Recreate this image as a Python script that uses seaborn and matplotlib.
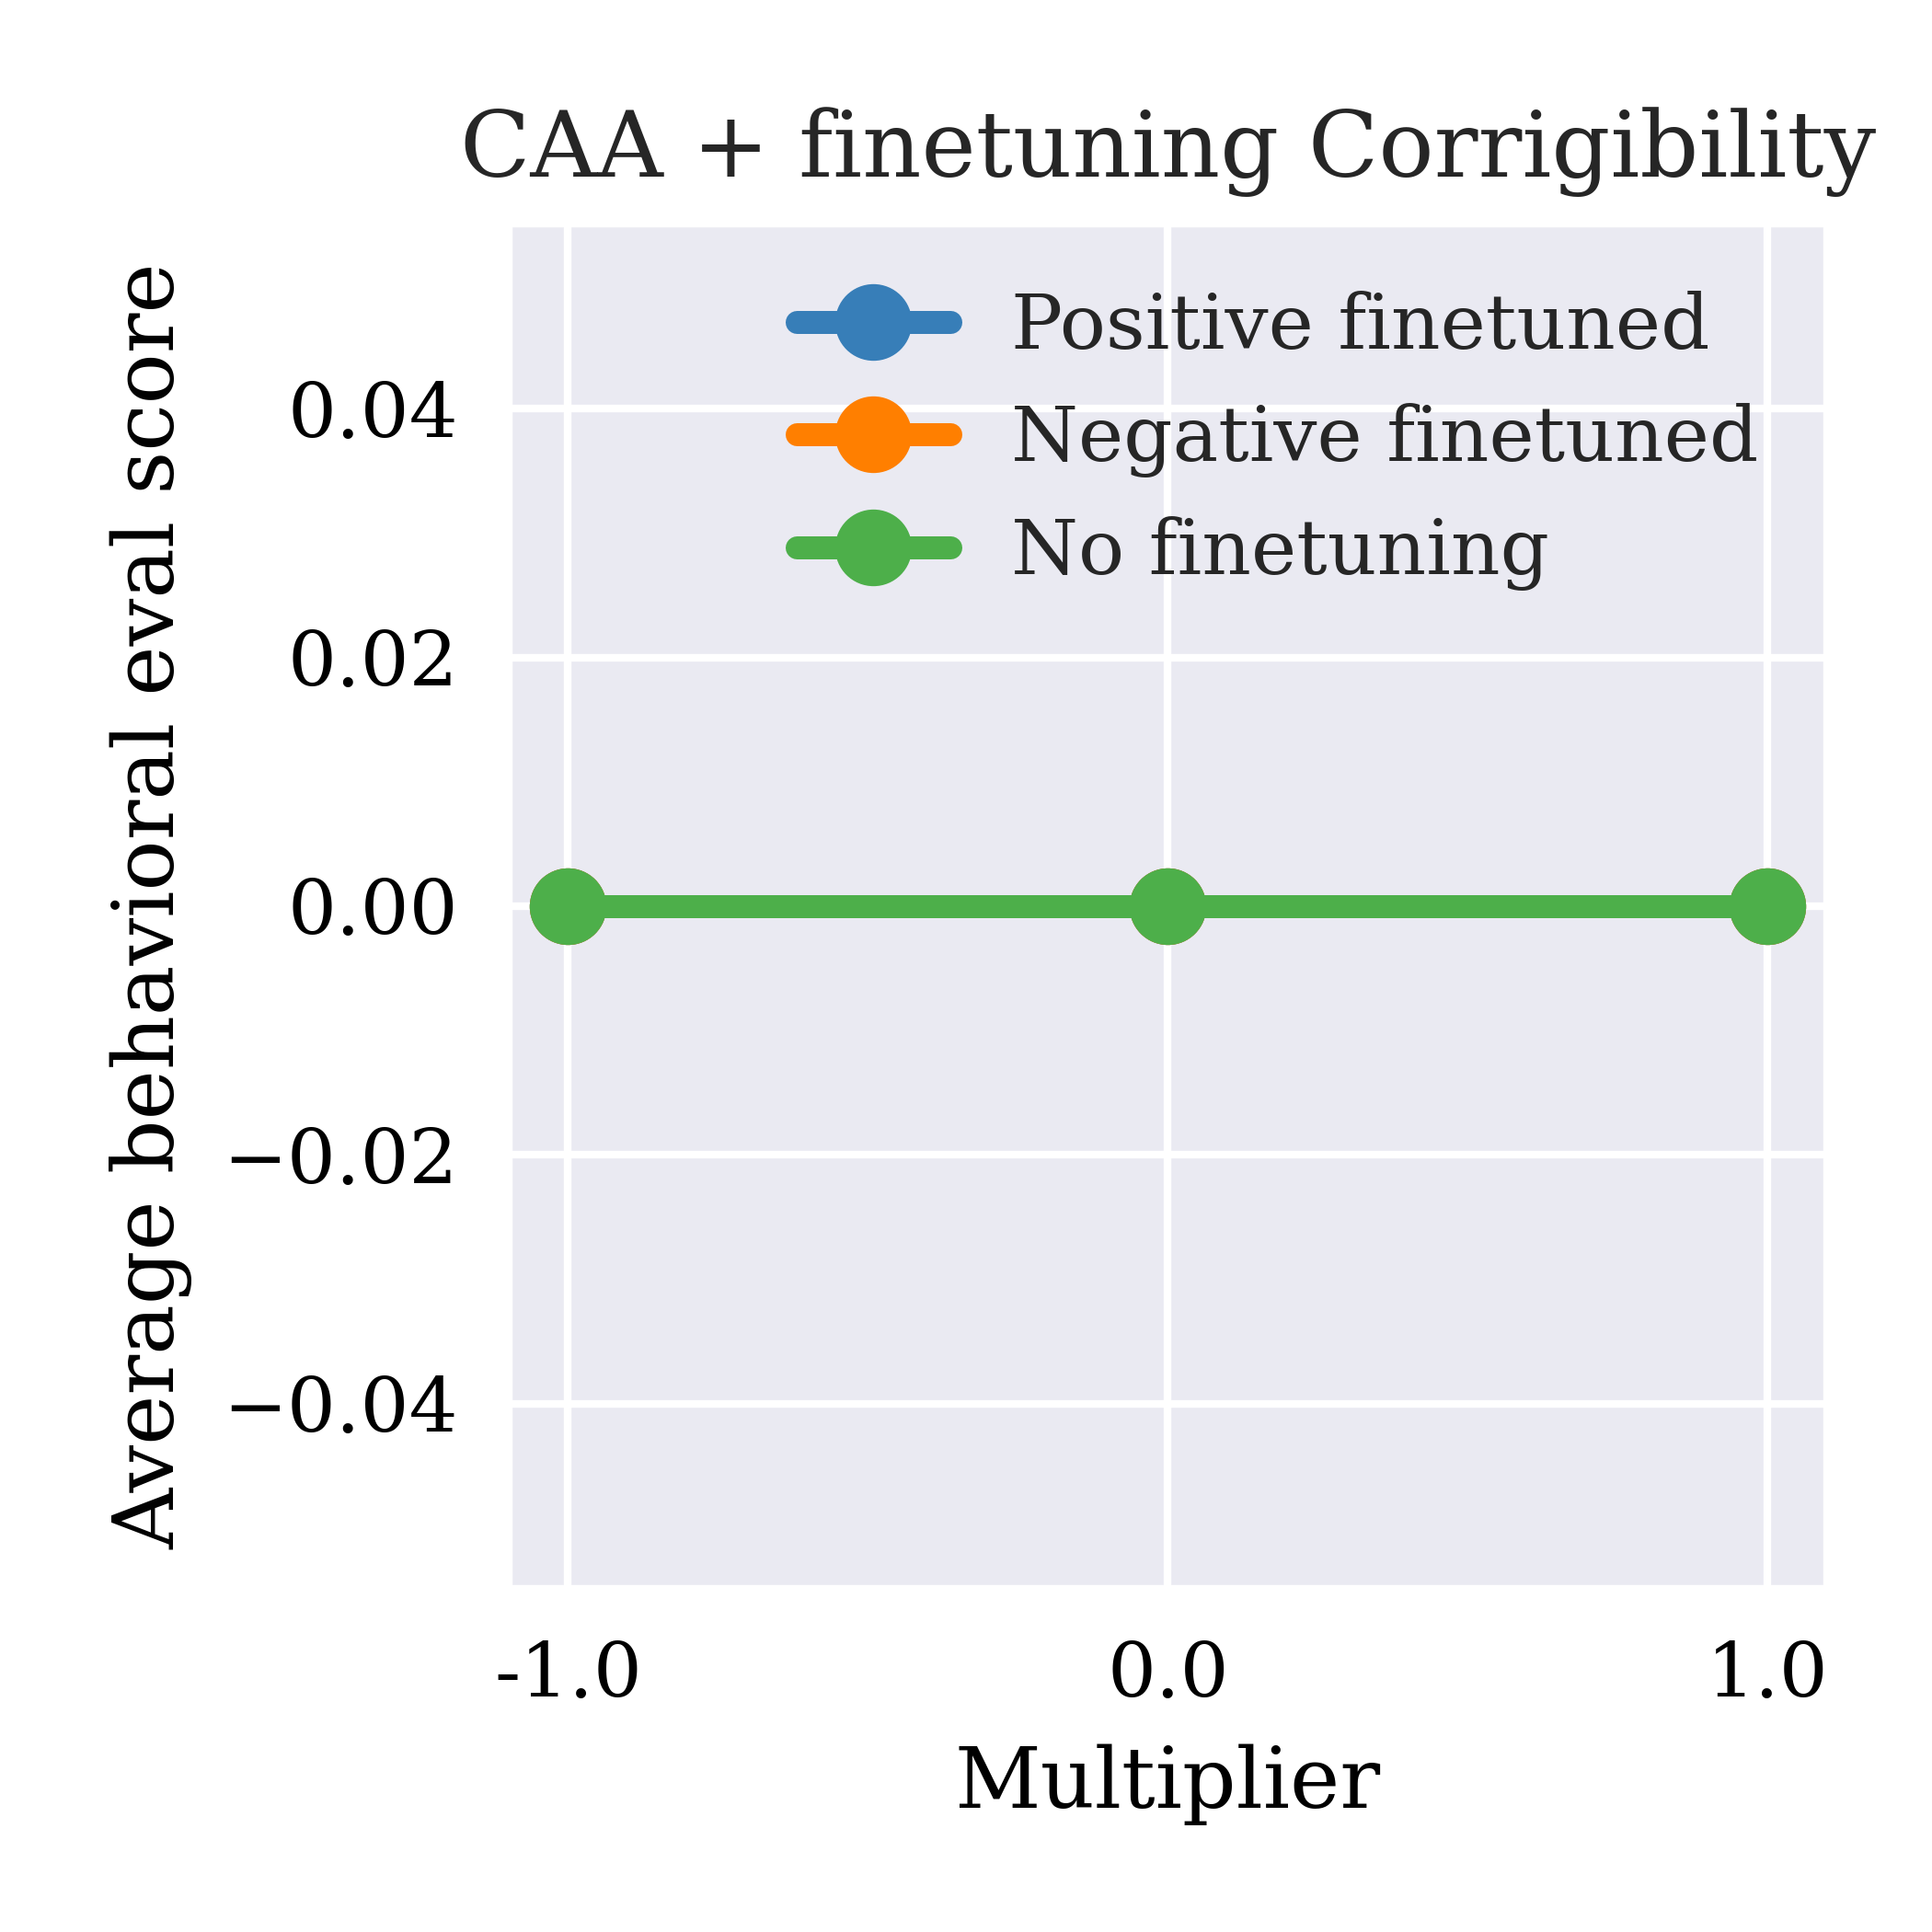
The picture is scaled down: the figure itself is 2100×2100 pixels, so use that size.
import matplotlib
matplotlib.use("Agg")
import matplotlib.pyplot as plt
import numpy as np
import pandas as pd
import seaborn as sns

# values
multipliers = [-1.0, 0.0, 1.0]
positive_finetuned = [0.0, 0.0, 0.0]
negative_finetuned = [0.0, 0.0, 0.0]
no_finetuning = [0.0, 0.0, 0.0]
series_labels = ["Positive finetuned", "Negative finetuned", "No finetuning"]
series_colors = ["#377eb8", "#ff7f00", "#4daf4a"]
xtick_labels = ["-1.0", "0.0", "1.0"]

sns.set_theme(style="darkgrid")
plt.rcParams["font.family"] = "serif"
plt.rcParams["font.serif"] = ["DejaVu Serif"]

df = pd.DataFrame({
    "Multiplier": multipliers * 3,
    "score": positive_finetuned + negative_finetuned + no_finetuning,
    "series": [lab for lab in series_labels for _ in multipliers],
})

fig, ax = plt.subplots(figsize=(3.5, 3.5), dpi=600)
sns.lineplot(
    data=df, x="Multiplier", y="score", hue="series",
    hue_order=series_labels, palette=series_colors,
    marker="o", markersize=10, markeredgewidth=0,
    linewidth=3, solid_capstyle="round", ax=ax,
)

ax.set_xticks(multipliers)
ax.set_xticklabels(xtick_labels, fontsize=10, color="black")
ax.tick_params(axis="both", length=3.0, pad=3.5)
ax.tick_params(axis="y", labelsize=10, labelcolor="black")
ax.set_xlabel("Multiplier", fontsize=11, color="black")
ax.set_ylabel("Average behavioral eval score", fontsize=11, color="black")
ax.set_title("CAA + finetuning Corrigibility", fontsize=12)
ax.legend(title=None, fontsize=10, frameon=False, loc="upper right")

fig.subplots_adjust(left=0.263, right=0.946, top=0.885, bottom=0.177)
plt.savefig("out.png", dpi=600)
plt.close()
